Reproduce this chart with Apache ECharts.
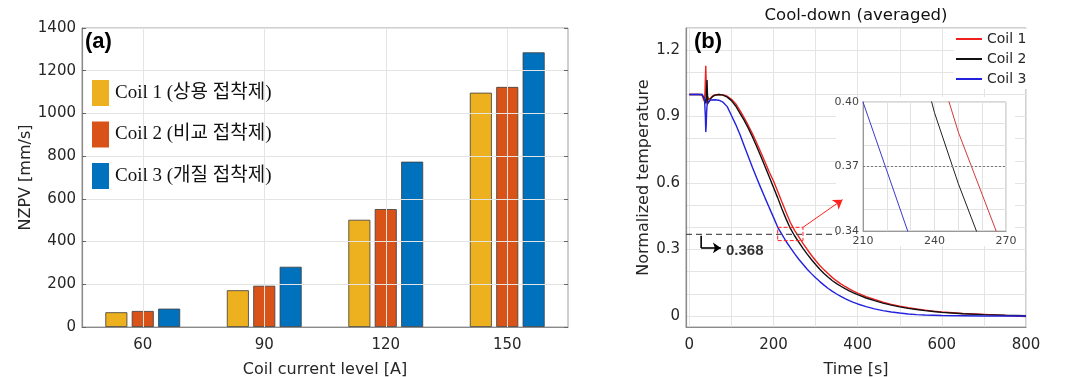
<!DOCTYPE html>
<html><head><meta charset="utf-8">
<script src="https://cdn.jsdelivr.net/npm/echarts@6/dist/echarts.min.js"></script>
<style>html,body{margin:0;padding:0;background:#fff}#c{width:1068px;height:377px}</style>
</head><body><div id="c"></div>
<script>
// ---------- (a) bar chart data ----------
const currents = ['60', '90', '120', '150'];
const barNames = ['Coil 1 (상용 접착제)', 'Coil 2 (비교 접착제)', 'Coil 3 (개질 접착제)'];
const coil1Nzpv = [69, 172, 502, 1097];
const coil2Nzpv = [75, 193, 552, 1124];
const coil3Nzpv = [86, 282, 774, 1286];

// ---------- (b) cool-down data [time s, normalized temperature] ----------
const lineNames = ['Coil 1', 'Coil 2', 'Coil 3'];
const coil1Cool = [[0,1.0],[10,1.0],[20,1.0],[30,0.998],[33,0.99],[35,0.97],[36,0.962],[37,1.0],[38,1.07],[39,1.13],[40,1.05],[41,0.975],[42,0.955],[43,0.975],[44,0.99],[45,0.978],[47,0.97],[50,0.982],[55,0.993],[60,0.998],[70,1.0],[80,0.998],[90,0.992],[100,0.978],[110,0.958],[120,0.928],[130,0.895],[140,0.86],[150,0.822],[160,0.781],[170,0.738],[180,0.694],[190,0.649],[200,0.609],[210,0.562],[220,0.514],[230,0.467],[240,0.422],[250,0.386],[260,0.357],[270,0.328],[280,0.3],[290,0.274],[300,0.25],[310,0.228],[320,0.208],[330,0.19],[340,0.173],[350,0.158],[360,0.145],[370,0.133],[380,0.122],[390,0.112],[400,0.103],[420,0.087],[440,0.074],[460,0.062],[480,0.052],[500,0.044],[520,0.037],[540,0.031],[560,0.026],[580,0.021],[600,0.018],[650,0.011],[700,0.007],[750,0.002],[800,-0.003]];
const coil2Cool = [[0,1.0],[10,1.0],[20,1.0],[30,1.0],[34,0.995],[37,0.975],[39,0.96],[40,0.985],[41,1.03],[42,1.065],[43,1.0],[44,0.96],[46,0.955],[48,0.97],[50,0.98],[55,0.99],[60,0.996],[70,1.0],[80,0.997],[90,0.988],[100,0.972],[110,0.948],[120,0.916],[130,0.884],[140,0.848],[150,0.808],[160,0.765],[170,0.72],[180,0.674],[190,0.627],[200,0.58],[210,0.533],[220,0.483],[230,0.437],[240,0.395],[250,0.362],[260,0.333],[270,0.305],[280,0.279],[290,0.255],[300,0.232],[310,0.211],[320,0.192],[330,0.175],[340,0.159],[350,0.146],[360,0.134],[370,0.123],[380,0.113],[390,0.104],[400,0.096],[420,0.081],[440,0.069],[460,0.058],[480,0.049],[500,0.041],[520,0.034],[540,0.029],[560,0.024],[580,0.02],[600,0.016],[650,0.01],[700,0.006],[750,0.003],[800,0.001]];
const coil3Cool = [[0,1.0],[10,1.0],[20,1.0],[30,1.0],[34,0.995],[36,0.98],[38,0.9],[39,0.83],[40,0.86],[41,0.92],[42,0.95],[44,0.965],[47,0.972],[50,0.975],[60,0.976],[70,0.974],[80,0.965],[90,0.945],[100,0.905],[110,0.865],[120,0.82],[130,0.77],[140,0.72],[150,0.67],[160,0.623],[170,0.577],[180,0.532],[190,0.488],[200,0.445],[210,0.40],[220,0.368],[230,0.336],[240,0.308],[250,0.281],[260,0.256],[270,0.233],[280,0.211],[290,0.191],[300,0.172],[310,0.155],[320,0.139],[330,0.124],[340,0.111],[350,0.099],[360,0.088],[370,0.078],[380,0.069],[390,0.061],[400,0.054],[420,0.042],[440,0.032],[460,0.024],[480,0.018],[500,0.013],[520,0.009],[540,0.006],[560,0.004],[580,0.003],[600,0.002],[650,0.001],[700,0],[750,0],[800,0]];

// annotation values
const refLevel = 0.368;
const refLineT = [-8, 352];
const refLabel = '0.368';
const elbowPts = [[28, 0.362], [28, 0.307], [75, 0.307]];
const refLabelPos = [87, 0.293];
const zoomT = [210, 270];
const zoomV = [0.34, 0.40];
const calloutEnd = [364, 0.525];
const insetRef = 0.37;

// axis settings
const barAxisMax = 1400, barAxisStep = 200;
const timeMin = -8, timeMax = 800, timeLabelStep = 200;
const tempMin = -0.05, tempMax = 1.3;

const SANS = "'DejaVu Sans', sans-serif";
const ARIAL = "'Liberation Sans', Arial, sans-serif";
const SERIF = "'Liberation Serif', 'Noto Sans CJK KR', serif";
const TXT = '#262626';
const GRID = '#e4e4e4';
const AX = '#8a8a8a';

// grid-line colour cycle (ticks every 4 s starting at -8 s; a line every 100 s)
const tCycle = Array.from({length: 25}, (_, i) => i === 2 ? GRID : 'rgba(0,0,0,0)');

const chart = echarts.init(document.getElementById('c'), null, {renderer: 'canvas'});

const G0 = {left: 82, top: 28, width: 486, height: 299};
const G1 = {left: 686, top: 28, width: 340, height: 299};
const G2 = {left: 863, top: 102, width: 143, height: 129};

const option = {
  backgroundColor: '#fff',
  animation: false,
  title: [
    {text: '(a)', left: 85, top: 31, padding: 0, textStyle: {fontFamily: ARIAL, fontWeight: 'bold', fontSize: 22, color: '#000'}},
    {text: '(b)', left: 694, top: 31, padding: 0, textStyle: {fontFamily: ARIAL, fontWeight: 'bold', fontSize: 22, color: '#000'}},
    {text: 'Cool-down (averaged)', left: 856, textAlign: 'center', top: 7, padding: 0, textStyle: {fontFamily: SANS, fontWeight: 'normal', fontSize: 16.5, color: '#111'}}
  ],
  legend: [
    {data: barNames, orient: 'vertical', left: 92, top: 80, itemWidth: 17, itemHeight: 26, itemGap: 15.5,
     icon: 'rect', selectedMode: false, padding: 0, itemStyle: {borderWidth: 0},
     textStyle: {fontFamily: SERIF, fontSize: 19, color: '#111', padding: [0, 0, 0, 1]}},
    {data: lineNames, orient: 'vertical', left: 954, top: 29, itemWidth: 26, itemHeight: 2, itemGap: 6,
     icon: 'rect', selectedMode: false, padding: [3, 3, 3, 2], backgroundColor: '#fff', itemStyle: {borderWidth: 0},
     textStyle: {fontFamily: SANS, fontSize: 14, color: TXT}}
  ],
  graphic: [{
    type: 'rect', z: 1, silent: true,
    shape: {x: G2.left - 27, y: G2.top - 5, width: G2.width + 36, height: G2.height + 20},
    style: {fill: '#fff'}
  }],
  grid: [
    Object.assign({show: true, outerBoundsMode: 'none', containLabel: false, borderColor: '#a0a0a0', borderWidth: 1, backgroundColor: 'rgba(0,0,0,0)', z: 0}, G0),
    Object.assign({show: true, outerBoundsMode: 'none', containLabel: false, borderColor: '#a0a0a0', borderWidth: 1, backgroundColor: 'rgba(0,0,0,0)', z: 0}, G1),
    Object.assign({show: true, outerBoundsMode: 'none', containLabel: false, borderColor: '#b0b0b0', borderWidth: 1, backgroundColor: '#fff', z: 2}, G2)
  ],
  xAxis: [
    {type: 'category', gridIndex: 0, data: currents, boundaryGap: true, z: 3,
     name: 'Coil current level [A]', nameLocation: 'middle', nameGap: 35,
     nameTextStyle: {fontFamily: SANS, fontSize: 16, color: TXT},
     axisLine: {lineStyle: {color: AX, width: 1.2}},
     axisTick: {inside: true, alignWithLabel: true, length: 4, lineStyle: {color: '#666'}},
     axisLabel: {fontFamily: SANS, fontSize: 15, color: TXT, margin: 11},
     splitLine: {show: false}},
    {type: 'category', gridIndex: 0, data: currents, position: 'top', boundaryGap: true, z: 3,
     axisLine: {show: false}, axisLabel: {show: false},
     axisTick: {inside: true, alignWithLabel: true, length: 4, lineStyle: {color: '#666'}},
     splitLine: {show: false}},
    {type: 'value', gridIndex: 1, min: timeMin, max: timeMax, interval: 4,
     name: 'Time [s]', nameLocation: 'middle', nameGap: 35,
     nameTextStyle: {fontFamily: SANS, fontSize: 16, color: TXT},
     axisLine: {onZero: false, lineStyle: {color: AX, width: 1.2}},
     axisTick: {show: false},
     axisLabel: {fontFamily: SANS, fontSize: 15, color: TXT, margin: 11, showMinLabel: true, showMaxLabel: true,
       formatter: v => (Math.round(v) >= 0 && Math.round(v) % timeLabelStep === 0) ? String(Math.round(v)) : ''},
     splitLine: {show: true, lineStyle: {color: tCycle, width: 1}}},
    {type: 'value', gridIndex: 2, min: zoomT[0], max: zoomT[1], interval: 10, z: 3,
     axisLine: {onZero: false, lineStyle: {color: '#999'}}, axisTick: {show: false},
     axisLabel: {fontFamily: SANS, fontSize: 11, color: '#444', margin: 5,
       formatter: v => ((Math.round(v) - zoomT[0]) % 30 === 0) ? String(Math.round(v)) : ''},
     splitLine: {show: true, lineStyle: {color: '#e2e2e2'}}}
  ],
  yAxis: [
    {type: 'value', gridIndex: 0, min: 0, max: barAxisMax, interval: barAxisStep, z: 3,
     name: 'NZPV [mm/s]', nameLocation: 'middle', nameGap: 44,
     nameTextStyle: {fontFamily: SANS, fontSize: 16, color: TXT},
     axisLine: {show: true, lineStyle: {color: AX, width: 1.2}},
     axisTick: {show: true, inside: true, length: 4, lineStyle: {color: '#666'}},
     axisLabel: {fontFamily: SANS, fontSize: 15, color: TXT, margin: 6, formatter: v => String(v)},
     splitLine: {show: true, lineStyle: {color: GRID}}},
    {type: 'value', gridIndex: 0, position: 'right', min: 0, max: barAxisMax, interval: barAxisStep, z: 3,
     axisLine: {show: false}, axisLabel: {show: false},
     axisTick: {show: true, inside: true, length: 4, lineStyle: {color: '#666'}},
     splitLine: {show: false}},
    {type: 'value', gridIndex: 1, min: tempMin, max: tempMax, interval: 0.05,
     name: 'Normalized temperature', nameLocation: 'middle', nameGap: 33,
     nameTextStyle: {fontFamily: SANS, fontSize: 16, color: TXT},
     axisLine: {show: true, onZero: false, lineStyle: {color: AX, width: 1.2}},
     axisTick: {show: false},
     axisLabel: {fontFamily: SANS, fontSize: 15, color: TXT, margin: 6,
       formatter: v => { const k = v * 10; const r = Math.round(k);
         if (Math.abs(k - r) > 1e-6 || r < 0 || r % 3 !== 0) return '';
         return r === 0 ? '0' : (r / 10).toFixed(1); }},
     splitLine: {show: true, lineStyle: {color: ['rgba(0,0,0,0)', GRID], width: 1}}},
    {type: 'value', gridIndex: 2, min: zoomV[0], max: zoomV[1], interval: 0.01, z: 3,
     axisLine: {show: true, onZero: false, lineStyle: {color: '#999'}}, axisTick: {show: false},
     axisLabel: {fontFamily: SANS, fontSize: 11, color: '#444', margin: 4,
       formatter: v => { const r = Math.round(v * 100); return (r % 3 === 1) ? v.toFixed(2) : ''; }},
     splitLine: {show: true, lineStyle: {color: '#e2e2e2'}}}
  ],
  series: [
    // vertical grid lines at category centres (behind bars)
    {type: 'line', xAxisIndex: 0, yAxisIndex: 0, data: [], z: 1, silent: true,
     markLine: {silent: true, symbol: ['none', 'none'], label: {show: false},
       lineStyle: {color: GRID, type: 'solid', width: 1},
       data: currents.map(c => ({xAxis: c}))}},
    {name: barNames[0], type: 'bar', xAxisIndex: 0, yAxisIndex: 0, data: coil1Nzpv, barWidth: 22, barGap: '20%',
     itemStyle: {color: '#EDB120', borderColor: '#3c3c3c', borderWidth: 0.8}},
    {name: barNames[1], type: 'bar', xAxisIndex: 0, yAxisIndex: 0, data: coil2Nzpv, barWidth: 22, barGap: '20%',
     itemStyle: {color: '#D95319', borderColor: '#3c3c3c', borderWidth: 0.8}},
    {name: barNames[2], type: 'bar', xAxisIndex: 0, yAxisIndex: 0, data: coil3Nzpv, barWidth: 22, barGap: '20%',
     itemStyle: {color: '#0072BD', borderColor: '#3c3c3c', borderWidth: 0.8}},

    // main cool-down curves
    {name: lineNames[0], type: 'line', xAxisIndex: 2, yAxisIndex: 2, data: coil1Cool, symbol: 'none',
     lineStyle: {color: '#ee2020', width: 1.4}, itemStyle: {color: '#ee2020'}},
    {name: lineNames[1], type: 'line', xAxisIndex: 2, yAxisIndex: 2, data: coil2Cool, symbol: 'none',
     lineStyle: {color: '#111111', width: 1.4}, itemStyle: {color: '#111111'}},
    {name: lineNames[2], type: 'line', xAxisIndex: 2, yAxisIndex: 2, data: coil3Cool, symbol: 'none',
     lineStyle: {color: '#2222dd', width: 1.4}, itemStyle: {color: '#2222dd'}},

    // reference dashed line at 0.368
    {type: 'line', xAxisIndex: 2, yAxisIndex: 2, silent: true, symbol: 'none',
     data: refLineT.map(t => [t, refLevel]),
     lineStyle: {color: '#555', width: 1.2, type: [6, 4]}},
    // red dashed zoom box
    {type: 'line', xAxisIndex: 2, yAxisIndex: 2, silent: true, symbol: 'none', z: 5,
     data: [[zoomT[0], zoomV[0]], [zoomT[1], zoomV[0]], [zoomT[1], zoomV[1]], [zoomT[0], zoomV[1]], [zoomT[0], zoomV[0]]],
     lineStyle: {color: '#ff2020', width: 1, type: [4, 2]},
     markLine: {silent: true, label: {show: false}, symbolSize: 9,
       lineStyle: {color: '#ff2020', width: 1, type: 'solid'},
       data: [[{coord: [zoomT[1], zoomV[1]], symbol: 'none'}, {coord: calloutEnd, symbol: 'arrow'}]]}},
    // black elbow arrow + label
    {type: 'line', xAxisIndex: 2, yAxisIndex: 2, silent: true, symbol: 'none', z: 5,
     data: elbowPts.slice(0, 2),
     lineStyle: {color: '#000', width: 1.6},
     markLine: {silent: true, label: {show: false}, symbolSize: 8,
       lineStyle: {color: '#000', width: 1.6, type: 'solid'},
       data: [[{coord: elbowPts[1], symbol: 'none'}, {coord: elbowPts[2], symbol: 'arrow'}]]}},
    {type: 'scatter', xAxisIndex: 2, yAxisIndex: 2, silent: true, symbolSize: 0, z: 5,
     data: [refLabelPos],
     label: {show: true, position: 'right', distance: 0, formatter: refLabel,
       fontFamily: ARIAL, fontWeight: 'bold', fontSize: 15, color: '#000'}},

    // inset curves (same data, zoomed axes)
    {type: 'line', xAxisIndex: 3, yAxisIndex: 3, data: coil1Cool, symbol: 'none', z: 4, silent: true, clip: true,
     lineStyle: {color: '#d03a3a', width: 1}},
    {type: 'line', xAxisIndex: 3, yAxisIndex: 3, data: coil2Cool, symbol: 'none', z: 4, silent: true, clip: true,
     lineStyle: {color: '#222', width: 1}},
    {type: 'line', xAxisIndex: 3, yAxisIndex: 3, data: coil3Cool, symbol: 'none', z: 4, silent: true, clip: true,
     lineStyle: {color: '#3a3acc', width: 1}},
    {type: 'line', xAxisIndex: 3, yAxisIndex: 3, symbol: 'none', z: 4, silent: true,
     data: zoomT.map(t => [t, insetRef]),
     lineStyle: {color: '#777', width: 1, type: [2, 2]}}
  ]
};
chart.setOption(option);
</script>
</body></html>
